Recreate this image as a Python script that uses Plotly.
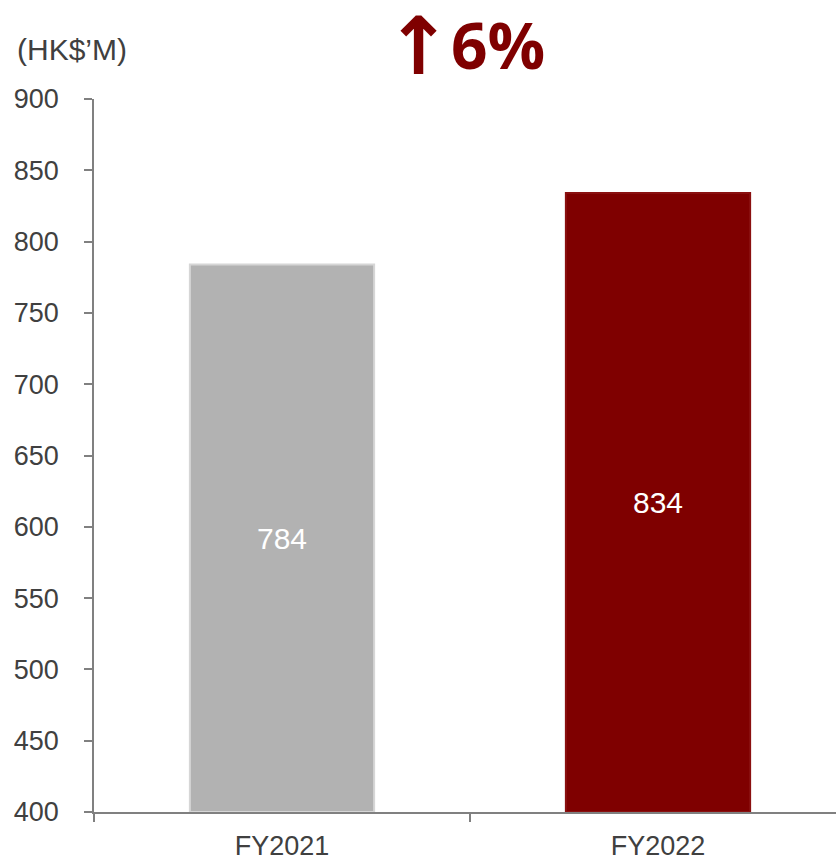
import plotly.graph_objects as go

categories = ["FY2021", "FY2022"]
values = [784, 834]
bar_colors = ["#b2b2b2", "#7f0000"]
line_colors = ["#d6d6d6", "#8a1010"]
y_min, y_max, y_step = 400, 900, 50
unit_label = "(HK$’M)"
growth_label = "6%"

L, T, B, R = 94, 99, 48, 0
W, H = 836, 860
PW, PH = W - L - R, H - T - B
CAT_PX = 376  # pixel width of one category slot


def px_x(x):
    return (x - L) / PW


def px_y(y):
    return 1 + (T - y) / PH


fig = go.Figure()
fig.add_trace(go.Bar(
    x=categories,
    y=[v - y_min for v in values],
    base=y_min,
    text=[str(v) for v in values],
    textposition="inside",
    insidetextanchor="middle",
    textfont=dict(family="Liberation Sans, Arial", size=30, color="white"),
    marker=dict(color=bar_colors, line=dict(color=line_colors, width=2)),
    width=0.49,
    hoverinfo="skip",
))

fig.update_layout(
    width=W, height=H,
    margin=dict(l=L, r=R, t=T, b=B, autoexpand=False),
    paper_bgcolor="white", plot_bgcolor="white",
    showlegend=False,
    font=dict(family="Liberation Sans, Arial", size=27, color="#404040"),
    xaxis=dict(
        type="category",
        range=[-0.5, -0.5 + PW / CAT_PX],
        showgrid=False,
        showline=True, linecolor="#808080", linewidth=1.5,
        ticks="outside", tickson="boundaries", ticklen=8,
        tickcolor="#808080", tickwidth=1.5,
        tickfont=dict(size=27, color="#404040"),
        ticklabelstandoff=9,
        fixedrange=True,
    ),
    yaxis=dict(
        range=[y_min, y_max],
        tickvals=list(range(y_min, y_max + 1, y_step)),
        showgrid=False, zeroline=False,
        showline=True, linecolor="#808080", linewidth=1.5,
        ticks="outside", ticklen=8, tickcolor="#808080", tickwidth=1.5,
        tickfont=dict(size=27, color="#404040"),
        ticklabelstandoff=20,
        fixedrange=True,
    ),
)

fig.add_annotation(
    text=unit_label, xref="paper", yref="paper",
    x=px_x(15), y=px_y(50),
    xanchor="left", yanchor="middle", showarrow=False,
    font=dict(family="Liberation Sans, Arial", size=30, color="#404040"),
)
fig.add_annotation(
    text="<b>↑</b>", xref="paper", yref="paper",
    x=px_x(418), y=px_y(46),
    xanchor="center", yanchor="middle", showarrow=False,
    font=dict(family="DejaVu Sans", size=80, color="#7f0000"),
)
fig.add_annotation(
    text="<b>" + growth_label + "</b>", xref="paper", yref="paper",
    x=px_x(498), y=px_y(44),
    xanchor="center", yanchor="middle", showarrow=False,
    font=dict(family="Open Sans", size=64, color="#7f0000"),
)

fig.write_html(
    "out.html",
    config={"displayModeBar": False},
    post_script="document.body.style.margin='0';document.body.style.overflow='hidden';",
)
